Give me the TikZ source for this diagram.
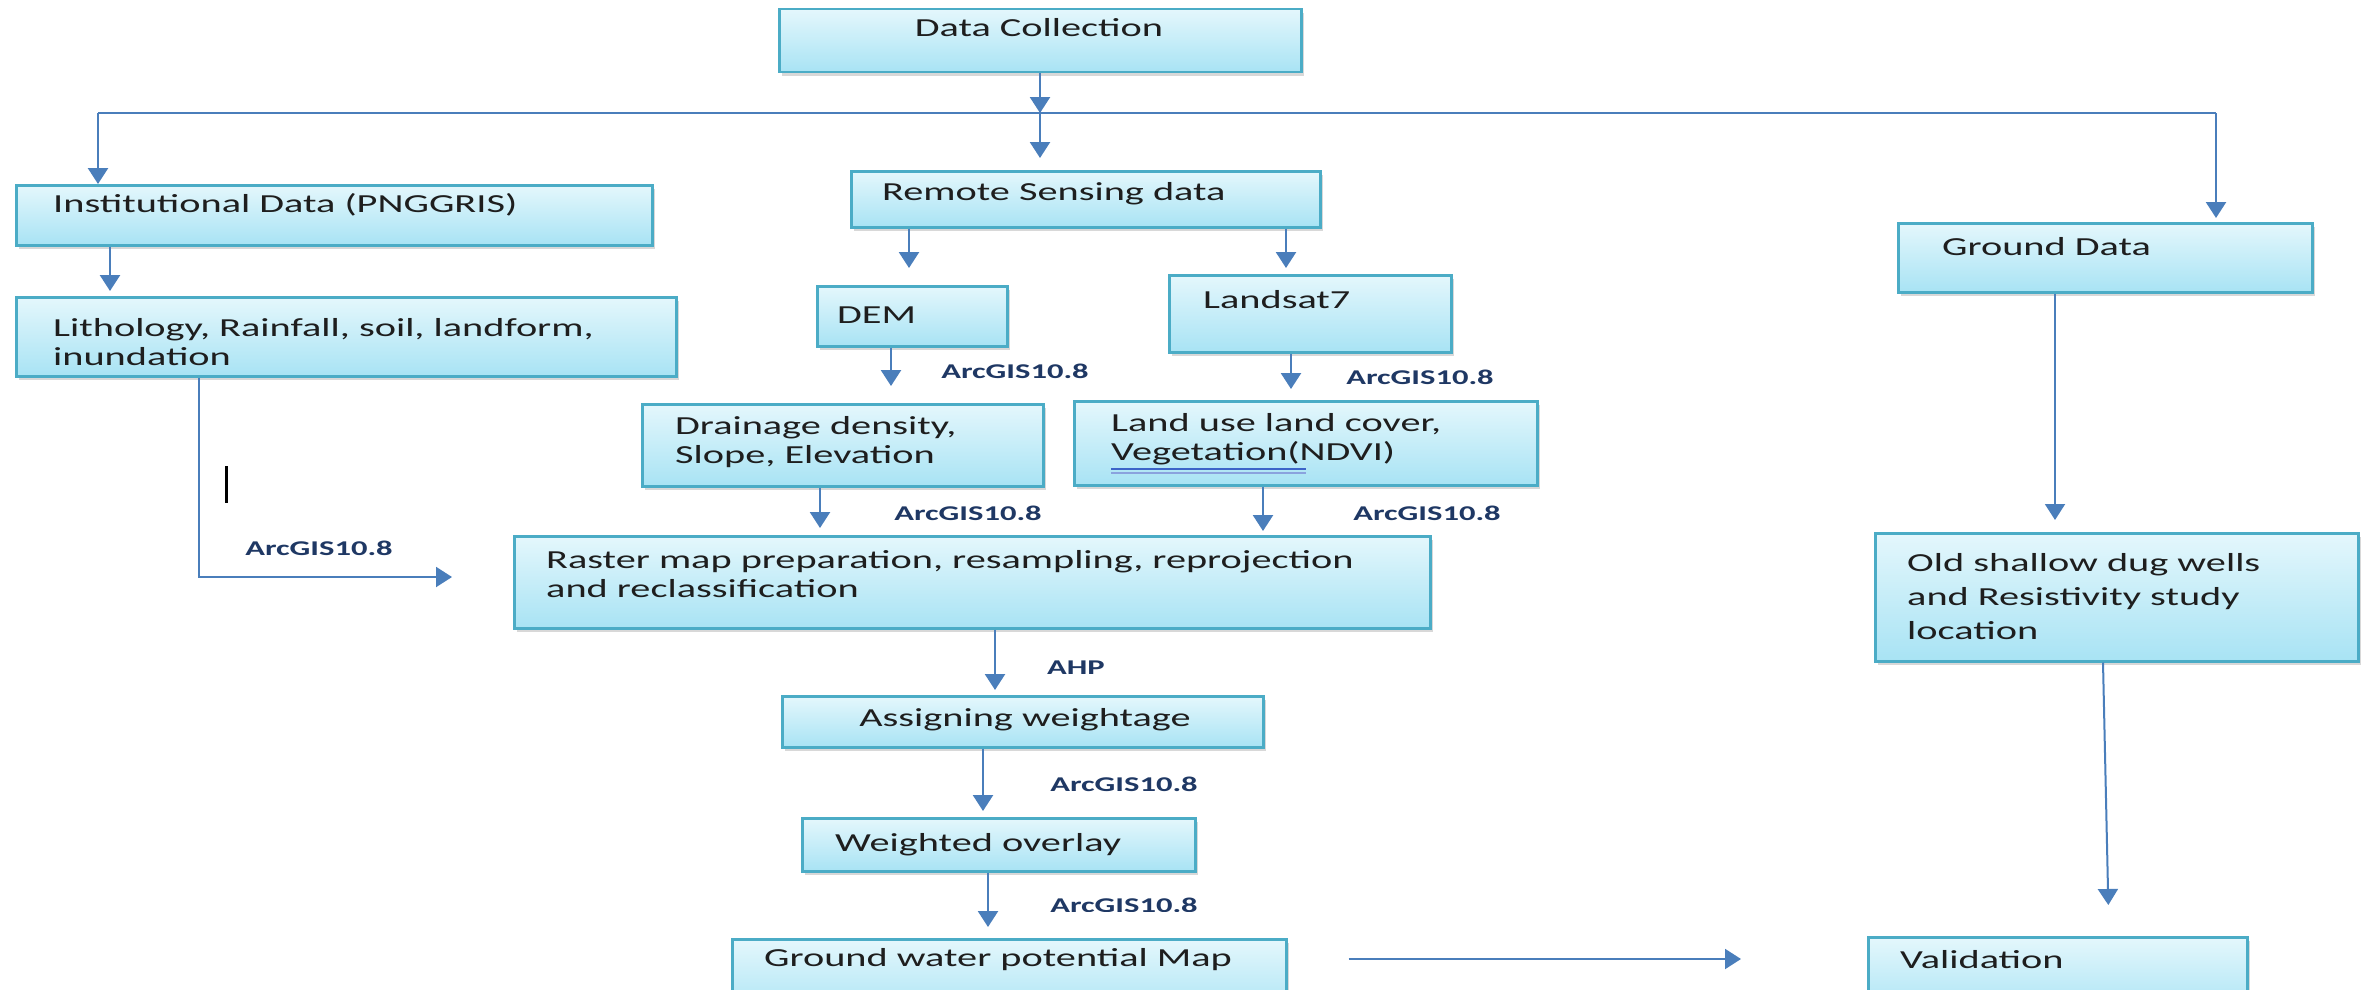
\documentclass[tikz,border=0pt]{standalone}
\usepackage{fontspec}
\setmainfont{Carlito}[FakeStretch=1.55]
\usetikzlibrary{arrows.meta,shadows,calc}
\definecolor{boxline}{HTML}{4BACC6}
\definecolor{boxtop}{HTML}{E4F7FC}
\definecolor{boxbot}{HTML}{A8E3F4}
\definecolor{arrowc}{HTML}{4A7EBB}
\definecolor{txt}{HTML}{1E1E1E}
\definecolor{lbl}{HTML}{1F3864}
\definecolor{spell}{HTML}{3C64C8}
\tikzset{
 box/.style={draw=boxline, line width=2.5pt, top color=boxtop, bottom color=boxbot, inner sep=0pt, anchor=north west,
   drop shadow={shadow xshift=3pt, shadow yshift=-4pt, opacity=0.3, fill=gray}},
 txtnode/.style={text=txt, font=\fontsize{26}{29}\selectfont, inner sep=0pt, align=left},
 lab/.style={text=lbl, font=\fontsize{21}{24}\selectfont\bfseries, inner sep=0pt},
 arr/.style={draw=arrowc, line width=2.5pt, -{Triangle[width=20pt,length=16pt]}},
 conn/.style={draw=arrowc, line width=2pt},
}
\begin{document}
\begin{tikzpicture}[x=1pt,y=-1pt]
\useasboundingbox (0,0) rectangle (2364,990);
\fill[white] (0,0) rectangle (2364,990);
% boxes
\node[box, minimum width=522pt, minimum height=63pt] (dc) at (778,8) {};
\node[box, minimum width=636pt, minimum height=60pt] (inst) at (15,184) {};
\node[box, minimum width=660pt, minimum height=79pt] (lith) at (15,296) {};
\node[box, minimum width=469pt, minimum height=56pt] (rs) at (850,170) {};
\node[box, minimum width=190pt, minimum height=60pt] (dem) at (816,285) {};
\node[box, minimum width=282pt, minimum height=77pt] (land) at (1168,274) {};
\node[box, minimum width=401pt, minimum height=82pt] (drain) at (641,403) {};
\node[box, minimum width=463pt, minimum height=84pt] (lu) at (1073,400) {};
\node[box, minimum width=916pt, minimum height=92pt] (raster) at (513,535) {};
\node[box, minimum width=481pt, minimum height=51pt] (assign) at (781,695) {};
\node[box, minimum width=393pt, minimum height=53pt] (wov) at (801,817) {};
\node[box, minimum width=554pt, minimum height=80pt] (gw) at (731,938) {};
\node[box, minimum width=379pt, minimum height=80pt] (val) at (1867,936) {};
\node[box, minimum width=414pt, minimum height=69pt] (gd) at (1897,222) {};
\node[box, minimum width=483pt, minimum height=128pt] (old) at (1874,532) {};
% texts
\node[txtnode] (dct) at (1039,28) {Data Collection};
\node[txtnode, anchor=west] (instt) at (53,205) {Institutional Data (PNGGRIS)};
\node[txtnode, anchor=west] (litht) at (53,342) {Lithology, Rainfall, soil, landform,\\inundation};
\node[txtnode, anchor=west] (rst) at (882,194) {Remote Sensing data};
\node[txtnode, anchor=west] (demt) at (837,315) {DEM};
\node[txtnode, anchor=west] (landt) at (1203,300) {Landsat7};
\node[txtnode, anchor=west] (draint) at (675,442) {Drainage density,\\Slope, Elevation};
\node[txtnode, anchor=west] (lut) at (1111,439) {Land use land cover,\\Vegetation(NDVI)};
\node[txtnode, anchor=west] (rastert) at (546,574) {Raster map preparation, resampling, reprojection\\and reclassification};
\node[txtnode] (assignt) at (1025,720) {Assigning weightage};
\node[txtnode, anchor=west] (wovt) at (835,845) {Weighted overlay};
\node[txtnode, anchor=west] (gwt) at (764,960) {Ground water potential Map};
\node[txtnode, anchor=west] (valt) at (1900,960) {Validation};
\node[txtnode, anchor=west] (gdt) at (1942,247) {Ground Data};
\node[txtnode, anchor=west, font=\fontsize{26}{34}\selectfont] (oldt) at (1907,597) {Old shallow dug wells\\and Resistivity study\\location};
% spell-check underline
\draw[spell, line width=1.5pt] (1111,469) -- (1306,469);
\draw[spell!60, line width=1.2pt] (1111,473) -- (1306,473);
% cursor mark
\draw[black, line width=3pt] (226,466) -- (226,503);
% junction coordinates
\coordinate (jmid) at (1040,113);
\coordinate (jl) at (98,113);
\coordinate (jr) at (2216,113);
\coordinate (lithend) at (452,577);
% connectors
\draw[arr] (dc.south -| jmid) -- (jmid);
\draw[conn] (jl) -- (jr);
\draw[arr, shorten >=12pt] (jmid) -- (rs.north -| jmid);
\draw[arr] (jl) -- (inst.north -| jl);
\draw[arr, shorten >=4pt] (jr) -- (gd.north -| jr);
\draw[arr, shorten >=5pt] (inst.south -| 110,0) -- (lith.north -| 110,0);
\draw[arr, line width=2pt] (lith.south -| 199,0) |- (lithend);
\draw[arr, shorten >=17pt] (rs.south -| 909,0) -- (dem.north -| 909,0);
\draw[arr, shorten >=6pt] (rs.south -| 1286,0) -- (land.north -| 1286,0);
\draw[arr, shorten >=17pt] (dem.south -| 891,0) -- (drain.north -| 891,0);
\draw[arr, shorten >=11pt] (land.south -| 1291,0) -- (lu.north -| 1291,0);
\draw[arr, shorten >=7pt] (drain.south -| 820,0) -- (raster.north -| 820,0);
\draw[arr, shorten >=4pt] (lu.south -| 1263,0) -- (raster.north -| 1263,0);
\draw[arr, shorten >=5pt] (raster.south -| 995,0) -- (assign.north -| 995,0);
\draw[arr, shorten >=6pt] (assign.south -| 983,0) -- (wov.north -| 983,0);
\draw[arr, shorten >=11pt] (wov.south -| 988,0) -- (gw.north -| 988,0);
\draw[arr, line width=2pt, shorten <=61pt, shorten >=126pt] (gw.east |- 0,959) -- (val.west |- 0,959);
\draw[arr, line width=2pt, shorten >=12pt] (gd.south -| 2055,0) -- (old.north -| 2055,0);
\draw[arr, line width=2pt, shorten >=31pt] (old.south -| 2103,0) -- (val.north -| 2109,0);
% labels
\node[lab] (l1) at (319,548) {ArcGIS10.8};
\node[lab] (l2) at (1015,371) {ArcGIS10.8};
\node[lab] (l3) at (1420,377) {ArcGIS10.8};
\node[lab] (l4) at (968,513) {ArcGIS10.8};
\node[lab] (l5) at (1427,513) {ArcGIS10.8};
\node[lab] (l6) at (1076,668) {AHP};
\node[lab] (l7) at (1124,784) {ArcGIS10.8};
\begin{scope}
\clip (1000,880) rectangle (1250,911);
\node[lab] (l8) at (1124,905) {ArcGIS10.8};
\end{scope}
\end{tikzpicture}
\end{document}
